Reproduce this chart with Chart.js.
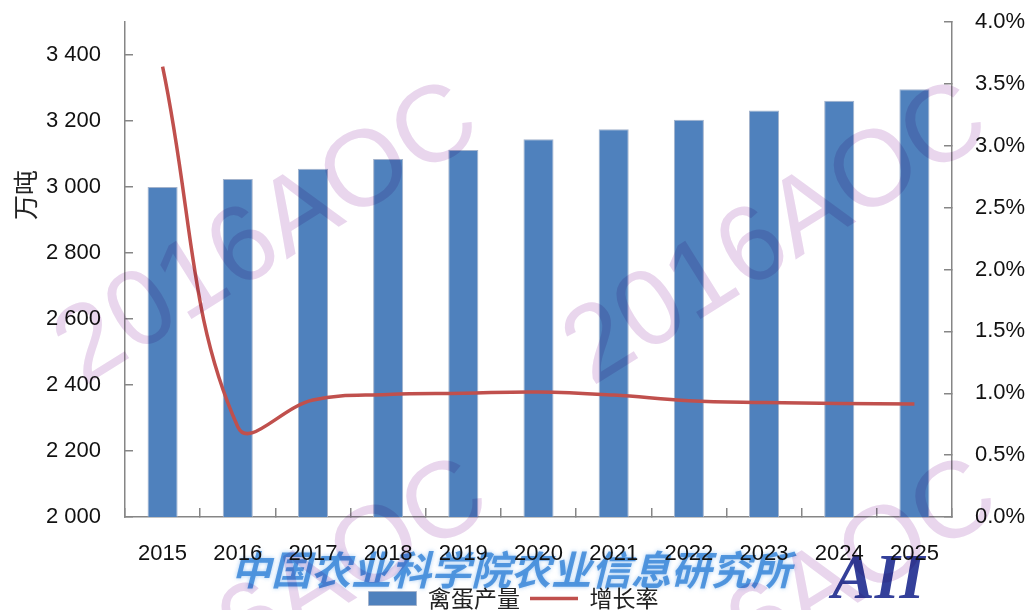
<!DOCTYPE html>
<html>
<head>
<meta charset="utf-8">
<script src="https://cdn.jsdelivr.net/npm/chart.js@4.4.1/dist/chart.umd.min.js"></script>
<style>
  body { margin: 0; background: #fff; }
  #wrap { width: 1027px; height: 610px; position: relative; }
</style>
</head>
<body>
<div id="wrap"><canvas id="eggChart"></canvas></div>
<script>
// Data
const years = ['2015', '2016', '2017', '2018', '2019', '2020', '2021', '2022', '2023', '2024', '2025'];
const eggOutput = [3000, 3024, 3055, 3085, 3112, 3145, 3175, 3204, 3232, 3261, 3296]; // 万吨
const growthRate = [3.64, 0.73, 0.945, 0.99, 1.0, 1.01, 0.985, 0.94, 0.925, 0.918, 0.913]; // %
const outputTicks = [2000, 2200, 2400, 2600, 2800, 3000, 3200, 3400];
const rateTicks = [0, 0.5, 1.0, 1.5, 2.0, 2.5, 3.0, 3.5, 4.0];

const tickFont = { family: "'Liberation Sans', sans-serif", size: 22, lineHeight: 1.0 };
const cjkFont = "'Noto Sans CJK SC', sans-serif";
const axisColor = '#868686';

// Axis title sits above the middle of the left axis, so draw it by hand
const sideTitle = {
  id: 'sideTitle',
  afterDraw(chart) {
    const ctx = chart.ctx;
    ctx.save();
    ctx.translate(25, 195);
    ctx.rotate(-Math.PI / 2);
    ctx.font = `25px ${cjkFont}`;
    ctx.fillStyle = '#222';
    ctx.textAlign = 'center';
    ctx.textBaseline = 'middle';
    ctx.fillText('万吨', 0, 0);
    ctx.restore();
  }
};

// Push the legend row down to the bottom edge like the original
const legendNudge = {
  id: 'legendNudge',
  afterLayout(chart) {
    const lg = chart.legend;
    if (!lg) return;
    lg.top += 10;
    lg.bottom += 10;
    if (lg.legendHitBoxes) lg.legendHitBoxes.forEach(b => { b.top += 10; });
  }
};

// Source marks printed behind / over the chart
const watermarks = {
  id: 'watermarks',
  beforeDraw(chart) {
    const ctx = chart.ctx;
    ctx.save();
    ctx.font = `italic bold 40px ${cjkFont}`;
    ctx.fillStyle = 'rgba(50,130,215,0.8)';
    ctx.shadowColor = 'rgba(100,165,235,0.7)';
    ctx.shadowBlur = 4;
    ctx.textAlign = 'center';
    ctx.textBaseline = 'middle';
    ctx.fillText('中国农业科学院农业信息研究所', 511, 570);
    ctx.shadowBlur = 0;
    ctx.font = "italic bold 64px 'Liberation Serif', serif";
    ctx.fillStyle = '#34409a';
    ctx.textAlign = 'left';
    ctx.textBaseline = 'alphabetic';
    ctx.fillText('AII', 832, 598);
    ctx.restore();
  },
  afterDraw(chart) {
    const ctx = chart.ctx;
    const spots = [[268, 236], [777, 236], [278, 612], [787, 612]];
    ctx.save();
    ctx.globalCompositeOperation = 'multiply';
    ctx.font = "108px 'Liberation Sans', sans-serif";
    ctx.fillStyle = '#e9d6ed';
    ctx.textAlign = 'center';
    ctx.textBaseline = 'middle';
    spots.forEach(([x, y]) => {
      ctx.save();
      ctx.translate(x, y);
      ctx.rotate(-32 * Math.PI / 180);
      ctx.fillText('2016AOC', 0, 0);
      ctx.restore();
    });
    ctx.restore();
  }
};

// Fixed axis sizes so the plot box lands where the original has it
function fixVertical(width) {
  return (scale) => {
    scale.width = width;
    scale.paddingTop = 0;
    scale.paddingBottom = 0;
  };
}

const chart = new Chart(document.getElementById('eggChart'), {
  type: 'bar',
  data: {
    labels: years,
    datasets: [
      {
        type: 'line',
        label: '增长率',
        data: growthRate,
        yAxisID: 'y1',
        borderColor: '#c0504d',
        backgroundColor: '#c0504d',
        borderWidth: 3.5,
        tension: 0.4,
        pointRadius: 0,
        pointStyle: 'line',
        pointBorderColor: '#c0504d',
        pointBorderWidth: 3.5,
        order: 0,
      },
      {
        label: '禽蛋产量',
        data: eggOutput,
        yAxisID: 'y',
        backgroundColor: '#4f81bd',
        borderColor: '#a3b3cc',
        borderWidth: 1,
        pointStyle: 'rect',
        barPercentage: 0.4,
        categoryPercentage: 1.0,
        order: 1,
      },
    ]
  },
  options: {
    responsive: true,
    maintainAspectRatio: false,
    animation: false,
    layout: { padding: { left: 0, right: 0, top: 22, bottom: 0 } },
    scales: {
      x: {
        grid: { drawOnChartArea: false, tickLength: -9, color: axisColor, lineWidth: 1.5 },
        border: { color: axisColor, width: 1.5 },
        ticks: { color: '#111', font: tickFont, padding: 35, maxRotation: 0 },
        afterFit(scale) { scale.height = 50; scale.paddingLeft = 0; scale.paddingRight = 0; },
      },
      y: {
        position: 'left',
        min: 2000,
        max: 3500,
        afterBuildTicks(scale) { scale.ticks = outputTicks.map(v => ({ value: v })); },
        afterFit: fixVertical(125),
        grid: { drawOnChartArea: false, tickLength: -8, color: axisColor, lineWidth: 1.5 },
        border: { color: axisColor, width: 1.5 },
        ticks: {
          color: '#111',
          font: tickFont,
          padding: 32,
          callback: (v) => String(v).replace(/\B(?=(\d{3})+(?!\d))/g, ' '),
        },
      },
      y1: {
        position: 'right',
        min: 0,
        max: 4,
        afterBuildTicks(scale) { scale.ticks = rateTicks.map(v => ({ value: v })); },
        afterFit: fixVertical(75),
        grid: { drawOnChartArea: false, tickLength: -8, color: axisColor, lineWidth: 1.5 },
        border: { color: axisColor, width: 1.5 },
        ticks: {
          color: '#111',
          font: tickFont,
          padding: 31,
          callback: (v) => v.toFixed(1) + '%',
        },
      },
    },
    plugins: {
      legend: {
        position: 'bottom',
        reverse: true,
        labels: {
          usePointStyle: true,
          pointStyleWidth: 48,
          boxHeight: 14,
          padding: 10,
          color: '#222',
          font: { family: cjkFont, size: 23 },
        },
      },
      title: { display: false },
      tooltip: { enabled: false },
    },
  },
  plugins: [watermarks, sideTitle, legendNudge],
});
</script>
</body>
</html>
